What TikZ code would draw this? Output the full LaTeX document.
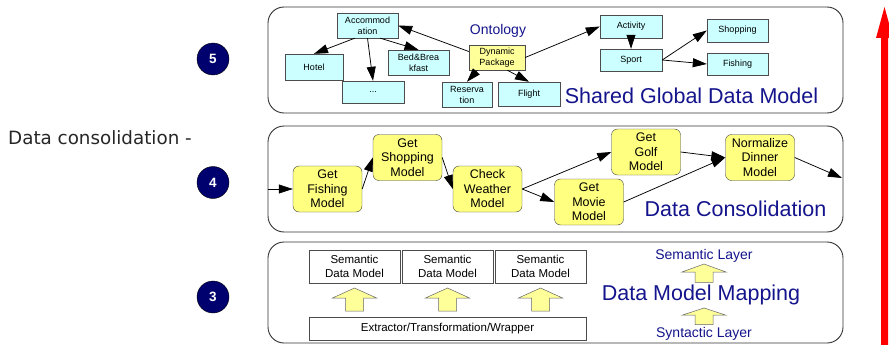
\documentclass[tikz,border=0pt]{standalone}
\usepackage{fontspec}
\setmainfont{Liberation Sans}
\newfontfamily\verdanalike{DejaVu Sans}
\usetikzlibrary{arrows.meta}

\definecolor{ontocyan}{RGB}{204,255,255}
\definecolor{pkgyellow}{RGB}{255,255,153}
\definecolor{taskyellow}{RGB}{255,255,128}
\definecolor{navytext}{RGB}{20,20,140}
\definecolor{badgenavy}{RGB}{0,0,110}

\tikzset{
  blockup/.pic={
    \draw[draw=black!60, fill=pkgyellow, line width=0.5pt]
      (0,0) -- (22,10) -- (9,10) -- (9,23) -- (-9,23) -- (-9,10) -- (-22,10) -- cycle;
  }
}

\begin{document}
\begin{tikzpicture}[x=1pt, y=-1pt,
    panel/.style={draw=black!80, line width=0.9pt, rounded corners=16pt},
    concept/.style={draw=black!70, fill=ontocyan, inner sep=0pt, align=center,
                    minimum width=61pt, minimum height=24pt,
                    font=\fontsize{9}{11}\selectfont},
    package/.style={concept, fill=pkgyellow},
    task/.style={draw=black!75, fill=taskyellow, rounded corners=6pt, inner sep=0pt,
                 align=center, minimum width=69pt, minimum height=46pt,
                 font=\fontsize{12.5}{14.5}\selectfont},
    semmodel/.style={draw=black!70, inner sep=0pt, align=center,
                     minimum width=91pt, minimum height=33pt,
                     font=\fontsize{11.5}{13.5}\selectfont},
    title/.style={text=navytext, inner sep=0pt, font=\fontsize{14}{16}\selectfont},
    bigtitle/.style={text=navytext, inner sep=0pt, font=\fontsize{21.5}{24}\selectfont},
    badge/.style={circle, draw=black, fill=badgenavy, text=white, inner sep=0pt,
                  minimum size=32pt, font=\fontsize{13.5}{15}\selectfont\bfseries},
    link/.style={-{Triangle[length=14pt,width=9pt]}, line width=0.75pt}]

  \useasboundingbox (0,0) rectangle (889,345);
  \clip (0,0) rectangle (889,345);

  % layer frames
  \draw[panel] (268,7) rectangle (843,113);
  \draw[panel] (268,126) rectangle (843,232);
  \draw[panel] (268,242) rectangle (843,343);

  % layer numbers
  \node[badge] (lvl5) at (213,59) {5};
  \node[badge] (lvl4) at (213,182.5) {4};
  \node[badge] (lvl3) at (213,297) {3};
  \node[anchor=west, inner sep=0pt, text=black!85, font=\verdanalike\fontsize{18.3}{21}\selectfont]
    (consol) at (8,138) {Data consolidation -};

  % shared global data model
  \node[concept] (accom) at (367.5,25.5) [minimum height=25pt] {Accommod\\ation};
  \node[concept] (hotel) at (314,67) [minimum width=58pt, minimum height=26pt] {Hotel};
  \node[concept] (more) at (373,92) [minimum width=62pt, minimum height=22pt] {...};
  \node[concept] (bnb) at (418.5,62.5) [minimum height=25pt] {Bed\&Brea\\kfast};
  \node[package] (dynpkg) at (497,57.5) [minimum width=56pt, minimum height=25pt] {Dynamic\\Package};
  \node[concept] (resv) at (467,94.5) [minimum width=50pt, minimum height=25pt] {Reserva\\tion};
  \node[concept] (flight) at (529,94) [minimum width=62pt] {Flight};
  \node[concept] (activity) at (631,26.5) [minimum width=62pt, minimum height=23pt] {Activity};
  \node[concept] (sport) at (631,60) [minimum width=62pt, minimum height=22pt] {Sport};
  \node[concept] (shopping) at (737.5,30.5) [minimum height=23pt] {Shopping};
  \node[concept] (fishing) at (737.5,64) [minimum height=22pt] {Fishing};
  \node[title] (ontology) at (498,31) {Ontology};
  \node[bigtitle] (sgdm) at (691.5,96) {Shared Global Data Model};

  \draw[link] (dynpkg.168) -- (accom.east);
  \draw[link] (accom.225) -- (hotel.north);
  \draw[link] (accom.south) -- (more.north);
  \draw[link] (accom.-45) -- (bnb.north);
  \draw[link] (dynpkg.213) -- (resv.north);
  \draw[link] (dynpkg.-51) -- (flight.north);
  \draw[link] (dynpkg.east) -- (activity.west);
  \draw[link] (activity.south) -- (sport.north);
  \draw[link] (sport.east) -- (shopping.west);
  \draw[link] (sport.east) -- (fishing.west);

  % data consolidation
  \coordinate (flowin) at (268,189);
  \coordinate (flowout) at (842,178);
  \node[task] (getfish) at (327.5,189) {Get\\Fishing\\Model};
  \node[task] (getshop) at (407.5,157.5) {Get\\Shopping\\Model};
  \node[task] (chkweather) at (487.5,189) {Check\\Weather\\Model};
  \node[task] (getmovie) at (589,202) {Get\\Movie\\Model};
  \node[task] (getgolf) at (646,152) {Get\\Golf\\Model};
  \node[task] (normdinner) at (760,157.5) {Normalize\\Dinner\\Model};
  \node[bigtitle] (dctitle) at (735.5,209) {Data Consolidation};

  \draw[link] (flowin) -- (getfish.west);
  \draw[link] (getfish.east) -- (getshop.west);
  \draw[link] (getshop.east) -- (chkweather.west);
  \draw[link] (chkweather.east) -- (getgolf.west);
  \draw[link] (chkweather.east) -- (getmovie.west);
  \draw[link] (getgolf.east) -- (normdinner.west);
  \draw[link] (getmovie.east) -- (normdinner.west);
  \draw[link] (normdinner.east) -- (flowout);

  % data model mapping
  \node[semmodel] (sdmA) at (354.5,266.5) {Semantic\\Data Model};
  \node[semmodel] (sdmB) at (447.5,266.5) {Semantic\\Data Model};
  \node[semmodel] (sdmC) at (540.5,266.5) {Semantic\\Data Model};
  \node[semmodel] (wrapper) at (447.5,328.5) [minimum width=277pt, minimum height=23pt]
    {Extractor/Transformation/Wrapper};
  \pic at (354.5,288) {blockup};
  \pic at (447.5,288) {blockup};
  \pic at (540.5,288) {blockup};

  \node[title] (semlayer) at (704,256) {Semantic Layer};
  \node[bigtitle] (dmm) at (701,295) {Data Model Mapping};
  \node[title] (synlayer) at (704,334) {Syntactic Layer};
  \pic[yscale=0.8] at (704,264) {blockup};
  \pic[yscale=0.72] at (704,308) {blockup};

  % direction of abstraction
  \fill[red] (881,345) -- (881,38) -- (876,38) -- (884.5,7) -- (893,38)
    -- (888,38) -- (888,345) -- cycle;
\end{tikzpicture}
\end{document}
